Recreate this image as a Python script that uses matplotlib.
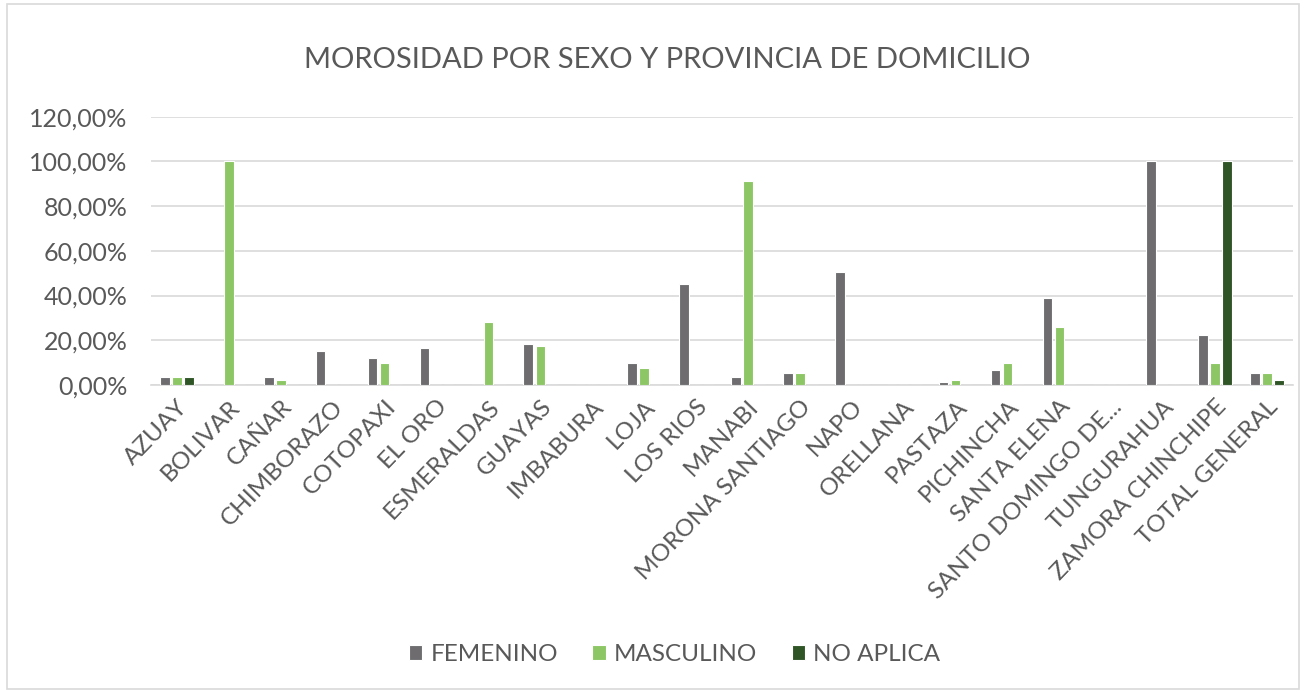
import matplotlib
matplotlib.use("Agg")
import matplotlib.pyplot as plt
import numpy as np
from matplotlib.ticker import FuncFormatter
from matplotlib.patches import Rectangle

categories = ["AZUAY", "BOLIVAR", "CAÑAR", "CHIMBORAZO", "COTOPAXI", "EL ORO",
              "ESMERALDAS", "GUAYAS", "IMBABURA", "LOJA", "LOS RIOS", "MANABI",
              "MORONA SANTIAGO", "NAPO", "ORELLANA", "PASTAZA", "PICHINCHA",
              "SANTA ELENA", "SANTO DOMINGO DE...", "TUNGURAHUA", "ZAMORA CHINCHIPE",
              "TOTAL GENERAL"]
femenino = [3.4, 0, 3.4, 15.4, 12.1, 16.4, 0, 18.5, 0, 9.8, 45.3, 3.4,
            5.5, 50.6, 0, 1.2, 6.6, 38.8, 0, 100, 22.5, 5.5]
masculino = [3.4, 100, 2.2, 0, 9.7, 0, 28.0, 17.3, 0, 7.8, 0, 91.4,
             5.5, 0, 0, 2.2, 9.8, 25.8, 0, 0, 9.8, 5.5]
no_aplica = [3.4, 0, 0, 0, 0, 0, 0, 0, 0, 0, 0, 0,
             0, 0, 0, 0, 0, 0, 0, 0, 100, 2.2]
series_names = ["FEMENINO", "MASCULINO", "NO APLICA"]
colors = ["#6e6c6f", "#8cc665", "#2f5426"]
yticks = [0, 20, 40, 60, 80, 100, 120]

plt.rcParams['font.family'] = ['Lato', 'DejaVu Sans']
txt = "#595959"

fig = plt.figure(figsize=(13.05, 6.92), dpi=100)
fig.patches.append(Rectangle((0.0055, 0.004), 0.99, 0.99, transform=fig.transFigure,
                             fill=False, edgecolor="#d9d9d9", linewidth=1.2))
ax = fig.add_axes([0.1157, 0.4436, 0.8751, 0.3878])

x = np.arange(len(categories))
w = 0.185
step = 0.232
for i, (vals, name, c) in enumerate(zip([femenino, masculino, no_aplica], series_names, colors)):
    ax.bar(x + (i - 1) * step, np.array(vals) / 100.0, width=w, color=c,
           edgecolor="white", linewidth=0.8, label=name, zorder=3)

ax.set_xlim(-0.5, len(categories) - 0.5)
ax.set_ylim(0, 1.2)
ax.set_yticks([v / 100 for v in yticks])
ax.yaxis.set_major_formatter(FuncFormatter(lambda v, p: f"{v*100:.2f}%".replace(".", ",")))
ax.grid(axis="y", color="#d9d9d9", linewidth=1.2, zorder=0)
for s in ["top", "right", "left"]:
    ax.spines[s].set_visible(False)
ax.spines["bottom"].set_color("#d9d9d9")
ax.spines["bottom"].set_linewidth(1.2)
ax.tick_params(axis="both", length=0, colors=txt)
ax.tick_params(axis="y", pad=17, labelsize=18)
ax.set_xticks(x)
ax.set_xticklabels(categories, rotation=46, ha="right", rotation_mode="anchor")
ax.tick_params(axis="x", pad=8, labelsize=17.5)

fig.text(0.511, 0.913, "MOROSIDAD POR SEXO Y PROVINCIA DE DOMICILIO", ha="center",
         va="center", fontsize=21, color=txt)

leg = fig.legend(loc="center", bbox_to_anchor=(0.517, 0.054), ncol=3, frameon=False,
                 fontsize=17.5, handlelength=0.55, handleheight=0.55, columnspacing=1.4,
                 handletextpad=0.35)
for t in leg.get_texts():
    t.set_color(txt)

fig.savefig("out.png", dpi=100)
